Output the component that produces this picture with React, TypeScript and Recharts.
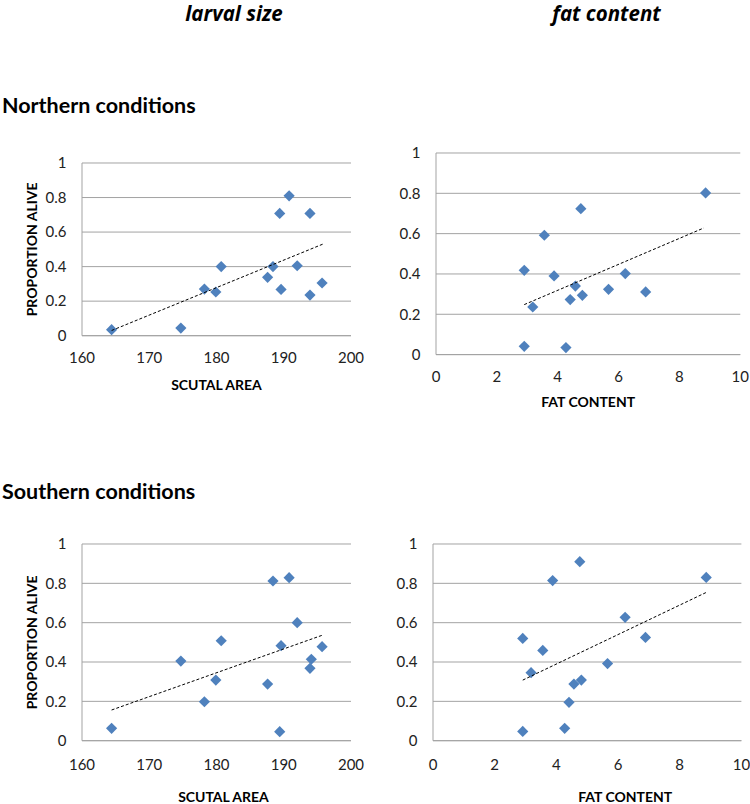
import React from 'react';
import { ScatterChart, Scatter, XAxis, YAxis, CartesianGrid } from 'recharts';

// ---------- data ----------
const yTicks = [0, 0.2, 0.4, 0.6, 0.8, 1];
const scutalTicks = [160, 170, 180, 190, 200];
const fatTicks = [0, 2, 4, 6, 8, 10];

const scutalNorth = [164.4, 174.7, 178.2, 179.9, 180.7, 187.6, 188.4, 189.4, 189.6, 190.8, 192.0, 193.9, 193.9, 195.7];
const aliveNorthSize = [0.035, 0.044, 0.27, 0.253, 0.4, 0.338, 0.4, 0.708, 0.268, 0.81, 0.405, 0.708, 0.235, 0.305];

const fatNorth = [2.9, 2.9, 3.18, 3.56, 3.88, 4.27, 4.41, 4.58, 4.76, 4.81, 5.67, 6.22, 6.89, 8.86];
const aliveNorthFat = [0.418, 0.041, 0.236, 0.592, 0.39, 0.035, 0.273, 0.34, 0.724, 0.294, 0.324, 0.402, 0.311, 0.802];

const scutalSouth = [164.4, 174.7, 178.2, 179.9, 180.7, 187.6, 188.4, 189.4, 189.6, 190.8, 192.0, 193.9, 194.1, 195.7];
const aliveSouthSize = [0.063, 0.405, 0.198, 0.308, 0.508, 0.288, 0.812, 0.046, 0.483, 0.829, 0.6, 0.368, 0.414, 0.478];

const fatSouth = [2.91, 2.91, 3.18, 3.56, 3.88, 4.27, 4.41, 4.57, 4.76, 4.81, 5.66, 6.23, 6.89, 8.86];
const aliveSouthFat = [0.52, 0.047, 0.346, 0.459, 0.814, 0.063, 0.195, 0.288, 0.91, 0.308, 0.392, 0.627, 0.525, 0.83];

// linear trend line end points
const trendNorthSizeX = [164.4, 195.8];
const trendNorthSizeY = [0.03, 0.53];
const trendNorthFatX = [2.9, 8.8];
const trendNorthFatY = [0.248, 0.628];
const trendSouthSizeX = [164.4, 195.8];
const trendSouthSizeY = [0.156, 0.537];
const trendSouthFatX = [2.91, 8.89];
const trendSouthFatY = [0.308, 0.756];

const zip = (xs: number[], ys: number[]) => xs.map((x, i) => ({ x, y: ys[i] }));

// ---------- styles ----------
const FONT = 'Lato, "Open Sans", sans-serif';
const ITALIC_FONT = '"Open Sans", Lato, sans-serif';
const GRID = '#a3a3a3';
const MARKER = '#4f81bd';
const TICK = { fill: '#222', fontSize: 15, fontFamily: FONT };
const TITLE_STYLE = { fill: '#000', fontSize: 14, fontWeight: 700, fontFamily: FONT };

const Diamond = (props: any) => {
  const { cx, cy } = props;
  if (cx == null || cy == null) return <g />;
  const r = 5.6;
  return (
    <path
      d={`M${cx},${cy - r}L${cx + r},${cy}L${cx},${cy + r}L${cx - r},${cy}Z`}
      fill={MARKER}
      stroke="none"
    />
  );
};
const Empty = () => <g />;

type Cfg = {
  left: number; top: number; right: number; bottom: number;
  xDomain: [number, number]; xTicks: number[];
  xTitle: string; xTitleOffset: number; xTitleDx: number;
  yTitle?: string; tickMarginX: number;
};

const Y_W = 70;
const M_TOP = 10;
const M_RIGHT = 16;
const X_H = 70;

function Panel({ cfg, points, trend }: { cfg: Cfg; points: { x: number; y: number }[]; trend: { x: number; y: number }[] }) {
  const width = cfg.right - cfg.left + Y_W + M_RIGHT;
  const height = cfg.bottom - cfg.top + M_TOP + X_H;
  return (
    <div style={{ position: 'absolute', left: cfg.left - Y_W, top: cfg.top - M_TOP }}>
      <ScatterChart width={width} height={height} margin={{ top: M_TOP, right: M_RIGHT, bottom: 0, left: 0 }}>
        <CartesianGrid horizontal vertical={false} stroke={GRID} />
        <XAxis
          type="number"
          dataKey="x"
          domain={cfg.xDomain}
          ticks={cfg.xTicks}
          interval={0}
          allowDataOverflow
          height={X_H}
          axisLine={{ stroke: GRID }}
          tickLine={false}
          tickMargin={cfg.tickMarginX}
          tick={TICK}
          label={{
            value: cfg.xTitle,
            position: 'insideBottom',
            offset: cfg.xTitleOffset,
            dx: cfg.xTitleDx,
            style: TITLE_STYLE,
          }}
        />
        <YAxis
          type="number"
          dataKey="y"
          domain={[0, 1]}
          ticks={yTicks}
          interval={0}
          width={Y_W}
          axisLine={{ stroke: GRID }}
          tickLine={false}
          tickMargin={9.5}
          tick={TICK}
          label={
            cfg.yTitle
              ? {
                  value: cfg.yTitle,
                  position: 'insideLeft',
                  angle: -90,
                  offset: 20,
                  style: { ...TITLE_STYLE, textAnchor: 'middle' },
                }
              : undefined
          }
        />
        <Scatter data={points} shape={Diamond} isAnimationActive={false} />
        <Scatter
          data={trend}
          shape={Empty}
          line={{ stroke: '#000', strokeWidth: 1, strokeDasharray: '3 2' }}
          isAnimationActive={false}
        />
      </ScatterChart>
    </div>
  );
}

const cfgNorthSize: Cfg = {
  left: 82, top: 163.3, right: 351, bottom: 336,
  xDomain: [160, 200], xTicks: scutalTicks,
  xTitle: 'SCUTAL AREA', xTitleOffset: 16, xTitleDx: 0,
  yTitle: 'PROPORTION ALIVE', tickMarginX: 10.4,
};
const cfgNorthFat: Cfg = {
  left: 435.7, top: 152.7, right: 740, bottom: 354.3,
  xDomain: [0, 10], xTicks: fatTicks,
  xTitle: 'FAT CONTENT', xTitleOffset: 17.6, xTitleDx: 0,
  tickMarginX: 10.8,
};
const cfgSouthSize: Cfg = {
  left: 82, top: 544, right: 351, bottom: 740.7,
  xDomain: [160, 200], xTicks: scutalTicks,
  xTitle: 'SCUTAL AREA', xTitleOffset: 8.7, xTitleDx: 7,
  yTitle: 'PROPORTION ALIVE', tickMarginX: 12.6,
};
const cfgSouthFat: Cfg = {
  left: 433.3, top: 544, right: 741.7, bottom: 740.7,
  xDomain: [0, 10], xTicks: fatTicks,
  xTitle: 'FAT CONTENT', xTitleOffset: 8.7, xTitleDx: 38,
  tickMarginX: 12.6,
};

export default function App() {
  return (
    <div style={{ position: 'absolute', left: 0, top: 0, width: 750, height: 804, background: '#fff', overflow: 'hidden' }}>
      <svg width={750} height={804} style={{ position: 'absolute', left: 0, top: 0 }}>
        <text x={234} y={21} textAnchor="middle" fontFamily={ITALIC_FONT} fontSize={20.5} fontWeight={700} fontStyle="italic" fill="#000">
          larval size
        </text>
        <text x={606.5} y={21} textAnchor="middle" fontFamily={ITALIC_FONT} fontSize={20.5} fontWeight={700} fontStyle="italic" fill="#000">
          fat content
        </text>
        <text x={2} y={112.5} fontFamily={FONT} fontSize={21.5} fontWeight={700} fill="#000">
          Northern conditions
        </text>
        <text x={2} y={498.5} fontFamily={FONT} fontSize={21.5} fontWeight={700} fill="#000">
          Southern conditions
        </text>
      </svg>
      <Panel cfg={cfgNorthSize} points={zip(scutalNorth, aliveNorthSize)} trend={zip(trendNorthSizeX, trendNorthSizeY)} />
      <Panel cfg={cfgNorthFat} points={zip(fatNorth, aliveNorthFat)} trend={zip(trendNorthFatX, trendNorthFatY)} />
      <Panel cfg={cfgSouthSize} points={zip(scutalSouth, aliveSouthSize)} trend={zip(trendSouthSizeX, trendSouthSizeY)} />
      <Panel cfg={cfgSouthFat} points={zip(fatSouth, aliveSouthFat)} trend={zip(trendSouthFatX, trendSouthFatY)} />
    </div>
  );
}
